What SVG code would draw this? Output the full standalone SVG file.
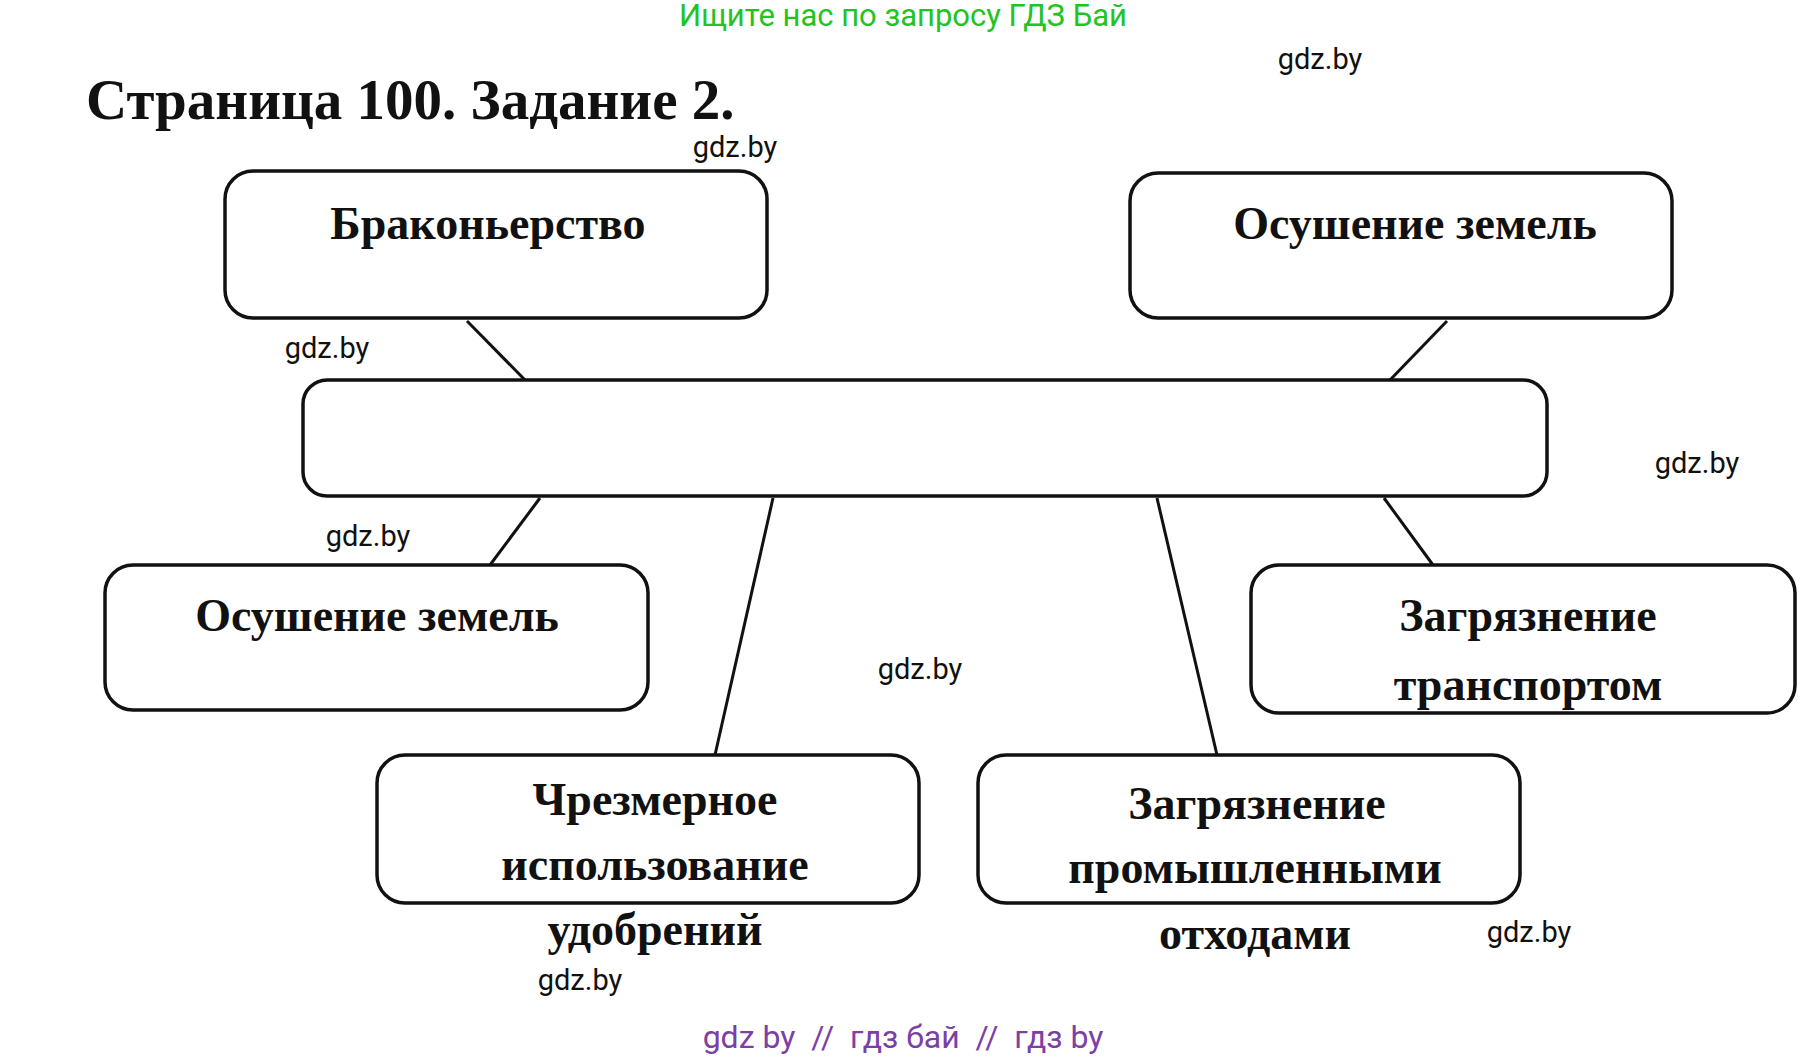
<svg xmlns="http://www.w3.org/2000/svg" width="1807" height="1058" viewBox="0 0 1807 1058">
<style>
.box{fill:#fff;stroke:#111;stroke-width:3.5}
.lbl{font-family:"Liberation Serif",serif;font-weight:bold;font-size:46px;fill:#111;text-anchor:middle}
.wm{font-family:Roboto,"Liberation Sans",sans-serif;font-size:29px;fill:#111;text-anchor:middle}
.ln{stroke:#111;stroke-width:3;fill:none}
</style>
<rect width="1807" height="1058" fill="#fff"/>
<text x="903" y="26" font-family="Roboto,'Liberation Sans',sans-serif" font-size="31" fill="#22c322" text-anchor="middle">Ищите нас по запросу ГДЗ Бай</text>
<text x="86" y="119" font-family="'Liberation Serif',serif" font-weight="bold" font-size="57" fill="#111">Страница 100. Задание 2.</text>
<g id="connectors">
<line class="ln" x1="467" y1="321" x2="525" y2="380"/>
<line class="ln" x1="1447" y1="321" x2="1390" y2="380"/>
<line class="ln" x1="540" y1="498" x2="490" y2="565"/>
<line class="ln" x1="773" y1="498" x2="715" y2="755"/>
<line class="ln" x1="1157" y1="498" x2="1217" y2="755"/>
<line class="ln" x1="1384" y1="498" x2="1433" y2="565"/>
</g>
<g id="n1"><rect class="box" x="225" y="171" width="542" height="147" rx="28"/><text class="lbl" x="488" y="239">Браконьерство</text></g>
<g id="n2"><rect class="box" x="1130" y="173" width="542" height="145" rx="28"/><text class="lbl" x="1415" y="239">Осушение земель</text></g>
<g id="center"><rect class="box" x="303" y="380" width="1244" height="116" rx="24"/></g>
<g id="n3"><rect class="box" x="105" y="565" width="543" height="145" rx="28"/><text class="lbl" x="377" y="631">Осушение земель</text></g>
<g id="n4"><rect class="box" x="1251" y="565" width="544" height="148" rx="28"/><text class="lbl" x="1528" y="631">Загрязнение</text><text class="lbl" x="1528" y="700">транспортом</text></g>
<g id="n5"><rect class="box" x="377" y="755" width="542" height="148" rx="28"/><text class="lbl" x="655" y="815">Чрезмерное</text><text class="lbl" x="655" y="880">использование</text><text class="lbl" x="655" y="945">удобрений</text></g>
<g id="n6"><rect class="box" x="978" y="755" width="542" height="148" rx="28"/><text class="lbl" x="1257" y="819">Загрязнение</text><text class="lbl" x="1255" y="883">промышленными</text><text class="lbl" x="1255" y="949">отходами</text></g>
<g id="watermarks">
<text class="wm" x="1320" y="69">gdz.by</text>
<text class="wm" x="735" y="157">gdz.by</text>
<text class="wm" x="327" y="358">gdz.by</text>
<text class="wm" x="1697" y="473">gdz.by</text>
<text class="wm" x="368" y="546">gdz.by</text>
<text class="wm" x="920" y="679">gdz.by</text>
<text class="wm" x="1529" y="942">gdz.by</text>
<text class="wm" x="580" y="990">gdz.by</text>
</g>
<text x="903" y="1048" font-family="Roboto,'Liberation Sans',sans-serif" font-size="32" fill="#7b3fa6" text-anchor="middle" xml:space="preserve">gdz by  //  гдз бай  //  гдз by</text>
</svg>
